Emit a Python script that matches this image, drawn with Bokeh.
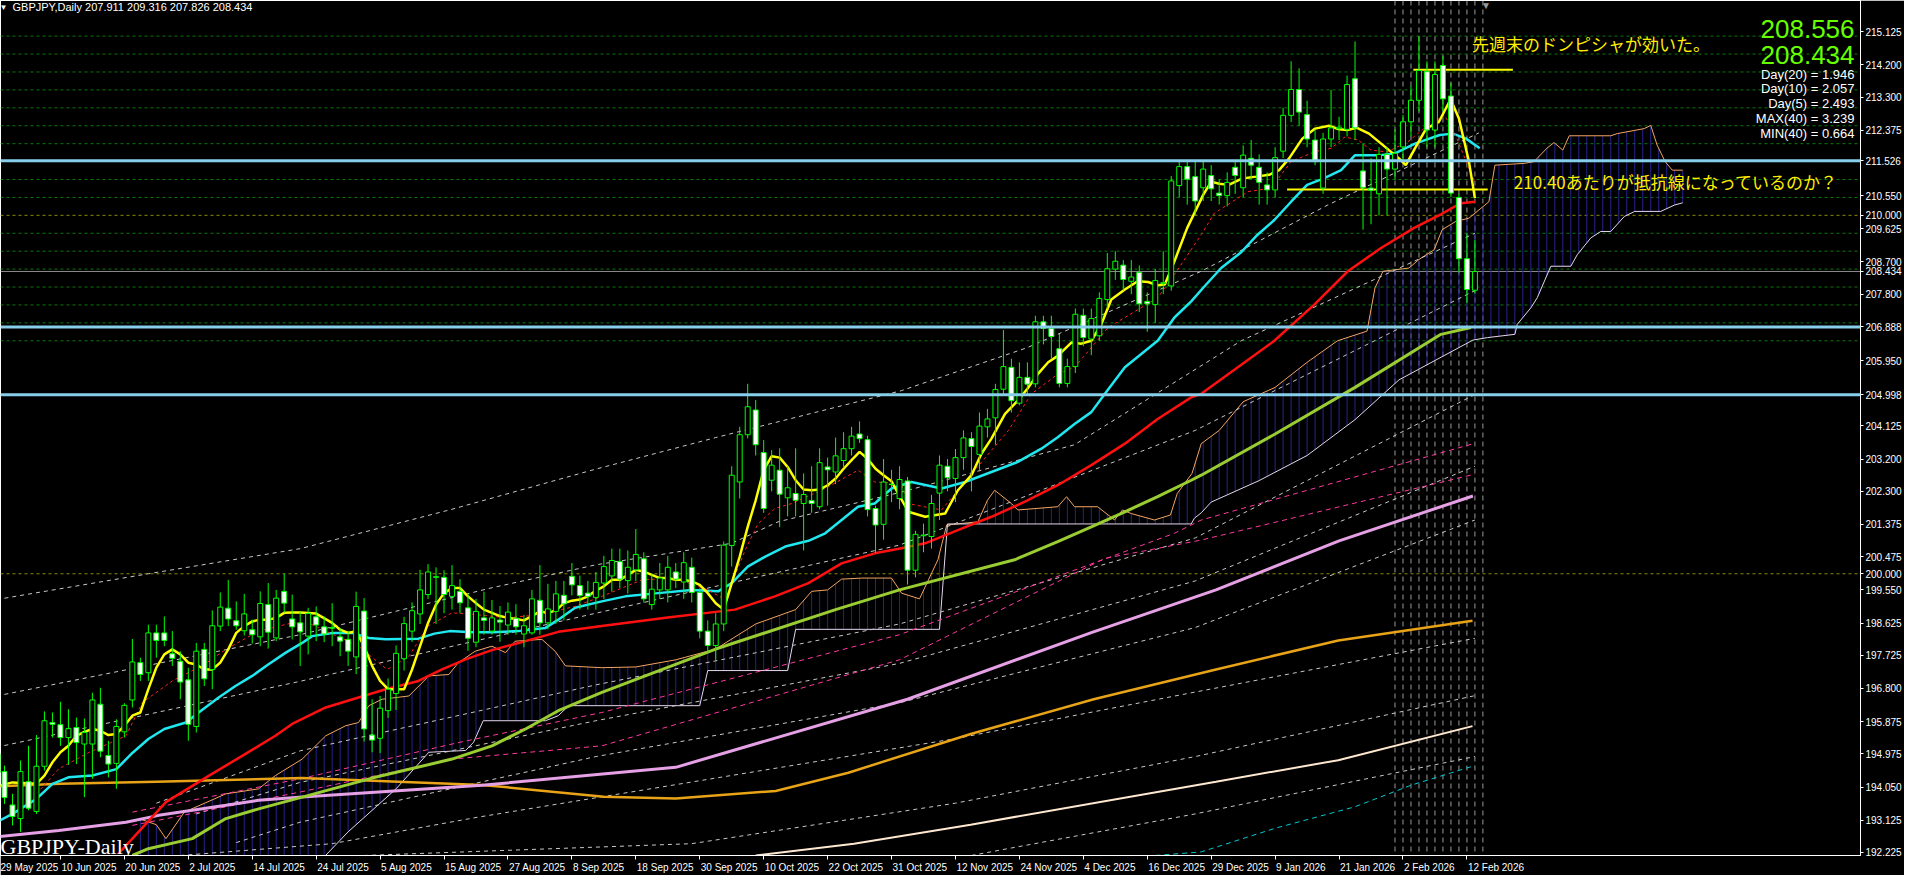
import numpy as np
from bokeh.plotting import figure
from bokeh.models import Range1d, FixedTicker, Span, Label, ColumnDataSource
from bokeh.embed import file_html
from bokeh.resources import INLINE

# ---------------- data ----------------
open_ = [194.97,194.48,193.55,193.17,194.20,193.37,194.63,195.85,195.79,195.43,195.71,195.25,195.25,196.36,194.93,194.71,195.59,196.48,197.52,197.24,
 198.35,198.35,197.77,197.56,197.04,195.74,197.89,197.33,198.54,199.04,198.69,198.41,198.44,198.24,199.14,198.21,199.51,198.74,198.63,198.26,
 198.80,198.52,198.50,198.24,198.17,197.68,198.96,195.50,195.41,196.18,196.66,197.63,198.40,198.88,199.42,199.90,199.90,199.37,199.51,199.05,
 198.09,198.77,198.40,198.71,198.57,198.76,198.32,198.35,199.26,198.63,198.95,199.40,199.93,199.67,199.46,199.34,199.74,199.94,200.34,199.81,
 200.11,200.42,199.14,199.55,199.55,200.05,199.77,200.18,199.48,198.40,198.00,198.60,200.79,202.56,203.88,204.57,203.38,202.61,202.89,202.12,
 202.24,201.96,202.04,201.87,202.98,202.84,203.16,203.49,203.90,203.74,201.82,201.38,202.50,202.10,202.59,200.10,201.06,201.04,202.25,203.00,
 202.66,203.24,203.77,203.33,204.10,204.35,205.15,205.76,204.76,205.48,205.30,207.03,206.84,206.28,205.31,205.78,207.21,206.55,206.64,207.65,
 208.50,208.61,208.16,208.41,207.60,207.51,208.10,208.03,210.83,211.36,211.08,210.77,211.11,210.62,210.55,211.34,210.77,211.59,211.34,210.85,
 210.71,211.79,212.79,213.51,212.81,212.10,210.76,212.13,212.42,212.40,213.81,211.24,210.76,210.60,211.70,211.29,211.91,212.61,213.21,214.01,
 212.38,214.18,213.33,210.50,208.79,207.911]
high = [196.32,194.65,193.86,194.79,195.20,195.50,196.16,196.13,196.43,196.22,195.99,195.96,196.68,196.82,195.34,195.94,196.39,198.18,197.66,198.58,
 198.58,198.81,198.40,197.84,197.38,198.07,198.07,198.98,199.48,199.83,199.23,199.44,198.72,199.51,199.74,199.55,200.00,199.42,198.95,199.05,
 199.09,198.81,199.18,198.49,198.40,199.50,199.32,196.50,196.59,197.08,198.00,198.80,199.20,200.11,200.27,200.18,200.10,200.24,199.85,199.45,
 199.30,199.50,199.27,199.10,199.20,199.15,198.85,199.55,200.24,199.72,199.80,199.80,200.30,199.95,199.80,200.05,200.50,200.70,200.70,200.65,
 201.25,200.60,200.00,200.30,200.50,200.30,200.60,200.45,199.60,198.70,198.90,200.90,203.00,204.10,205.30,204.85,203.73,203.45,203.50,203.00,
 203.50,202.80,203.00,203.50,203.24,203.80,203.95,204.10,204.25,203.85,201.90,203.20,202.90,203.00,202.70,201.20,201.40,202.20,203.30,203.20,
 203.48,204.00,203.95,204.50,204.60,205.30,206.80,206.00,205.90,205.90,207.20,207.20,207.20,206.70,206.00,207.40,207.40,207.40,207.85,208.95,
 209.00,208.75,208.75,208.60,207.85,208.50,209.00,211.10,211.50,211.50,211.50,211.50,211.40,211.00,211.20,211.55,211.95,212.10,211.70,211.20,
 211.90,213.00,214.30,214.10,213.20,212.40,212.30,213.50,212.75,213.90,214.85,212.00,211.60,211.90,211.90,212.40,212.80,213.60,215.00,214.30,
 214.30,214.45,213.70,210.60,209.50,209.316]
low = [194.28,193.58,192.98,192.80,193.40,193.30,194.51,195.43,195.20,194.67,194.69,193.77,194.28,194.88,194.32,194.00,195.43,196.27,197.01,197.01,
 197.66,197.98,197.43,196.50,195.34,195.57,196.87,196.78,198.40,198.54,198.44,198.28,198.05,197.98,197.91,198.12,198.91,198.17,197.43,197.75,
 198.12,198.09,197.98,197.70,197.43,197.20,195.32,195.02,195.00,195.98,196.20,197.30,198.10,198.60,199.30,198.60,198.90,199.00,198.90,197.85,
 197.95,198.30,198.30,198.10,198.30,198.30,197.95,198.30,198.30,198.45,198.60,198.70,199.40,199.00,199.00,199.00,199.30,199.50,199.60,199.45,
 199.80,199.20,199.00,199.30,199.20,199.60,199.30,199.20,198.20,197.80,197.60,198.40,200.20,202.10,203.78,203.30,201.70,202.30,201.30,201.60,
 201.60,200.65,201.70,201.80,201.90,202.50,202.95,203.30,203.65,201.60,200.58,200.95,202.00,201.80,199.70,199.90,200.60,200.70,201.50,202.30,
 202.00,202.90,202.30,202.90,203.80,203.60,205.00,204.50,204.70,205.00,205.20,206.40,206.00,205.20,205.20,205.60,206.35,206.10,206.50,207.40,
 208.20,207.90,207.80,207.30,206.75,207.00,207.80,207.90,210.50,210.30,210.00,210.40,210.40,210.30,210.25,210.60,210.50,211.00,210.30,210.30,
 210.50,211.60,212.60,212.50,211.90,211.40,210.60,211.90,212.10,212.20,212.10,209.60,209.75,210.00,210.00,211.00,211.50,212.20,212.90,211.90,
 211.90,212.90,210.50,208.40,207.55,207.826]
close = [194.46,193.76,193.23,194.48,193.46,194.63,195.90,195.80,195.43,195.68,195.29,195.57,196.48,195.05,194.69,195.74,196.33,197.54,197.19,198.35,
 198.14,198.14,197.64,196.98,195.80,197.84,197.07,198.55,199.07,198.74,198.55,198.88,198.30,199.17,198.37,199.32,199.18,198.52,198.38,198.89,
 198.57,198.32,198.48,198.12,197.84,199.09,195.67,195.36,196.25,196.78,197.78,198.61,198.97,199.55,200.05,199.92,199.42,199.67,199.19,198.20,
 198.95,198.70,198.77,198.65,198.93,198.52,198.55,199.30,198.63,199.02,199.44,199.16,199.69,199.39,199.37,199.76,200.20,200.37,199.85,200.18,
 200.54,199.30,199.57,199.88,200.18,199.85,200.31,199.48,198.40,198.00,198.60,200.80,202.75,203.88,204.66,203.60,201.82,203.03,202.22,202.40,
 202.05,202.21,201.96,203.10,202.90,203.29,203.49,203.84,203.77,201.79,201.36,202.56,202.49,202.63,200.10,201.10,201.08,201.96,203.03,202.68,
 203.24,203.79,203.55,204.12,204.32,205.14,205.78,204.83,205.48,205.29,207.03,206.85,206.62,205.31,205.78,207.24,206.59,207.12,207.68,208.51,
 208.72,208.21,208.28,207.53,207.53,208.18,208.12,210.96,211.36,211.01,210.40,211.29,210.74,210.55,210.92,211.11,211.68,211.40,210.92,210.71,
 211.61,212.79,213.51,212.88,212.13,211.50,212.13,212.44,212.46,213.65,212.44,210.78,210.70,211.70,211.29,211.73,212.61,213.21,214.04,212.38,
 213.93,213.25,210.62,208.79,207.93,208.434]

date_labels = ["29 May 2025","10 Jun 2025","20 Jun 2025","2 Jul 2025","14 Jul 2025","24 Jul 2025","5 Aug 2025","15 Aug 2025",
 "27 Aug 2025","8 Sep 2025","18 Sep 2025","30 Sep 2025","10 Oct 2025","22 Oct 2025","31 Oct 2025","12 Nov 2025","24 Nov 2025",
 "4 Dec 2025","16 Dec 2025","29 Dec 2025","9 Jan 2026","21 Jan 2026","2 Feb 2026","12 Feb 2026"]
date_bars = [0,8,16,24,32,40,48,56,64,72,80,88,96,104,112,120,128,136,144,152,160,168,176,184]

price_ticks = [215.125,214.2,213.3,212.375,210.55,209.625,208.7,207.8,205.95,204.125,203.2,202.3,201.375,200.475,
 199.55,198.625,197.725,196.8,195.875,194.975,194.05,193.125,192.225]

# moving-average style lines (bar index, price)
yellow_x = [0,2,5,6,7,8,9,10,11,12,13,14,15,16,17,18,19,20,21,22,23,24,25,26,27,28,29,30,31,32,33,34,35,36,37,38,40,42,43,44,45,46,47,48,49,50,
 51,52,53,54,55,56,57,58,59,60,61,62,63,64,65,66,67,68,69,70,71,72,73,74,75,76,77,78,79,80,81,82,83,84,85,86,87,88,89,90,91,92,93,94,95,96,97,98,99,100,
 101,102,103,104,105,106,107,108,109,110,111,112,114.1,116.2,118.7,120.3,122,123.25,124.5,126.2,127.8,129,130.3,131.6,132.8,134.5,135.75,137,138.25,139.5,
 141.2,142.8,144.1,145.3,146.2,147.4,149,150,151,152,153,154.2,155.9,157.6,159.25,160.5,161.75,163.4,165,166.75,168,169,170.25,171.75,173,174.25,175.5,
 176.35,177.6,178.9,180.5,181.96,183,184.25,185]
yellow_y = [194.07,194.18,194.14,194.37,194.74,195.02,195.2,195.48,195.59,195.67,195.62,195.5,195.53,195.76,196.04,196.13,196.78,197.38,197.75,197.89,
 197.75,197.52,197.47,197.33,197.33,197.52,197.89,198.35,198.54,198.67,198.72,198.72,198.77,198.91,198.92,198.92,198.89,198.63,198.44,198.35,198.4,197.98,
 197.43,197.01,196.78,196.78,196.78,197.33,197.98,198.63,199.14,199.46,199.6,199.6,199.37,199.18,199.0,198.91,198.82,198.77,198.74,198.7,198.82,198.95,
 198.91,198.98,199.18,199.25,199.28,199.37,199.53,199.65,199.83,199.83,199.97,200.11,200.06,199.97,199.88,199.88,199.83,199.83,199.79,199.69,199.46,199.18,
 199.0,199.74,200.48,201.31,202.05,202.89,203.28,203.24,202.98,202.61,202.35,202.33,202.35,202.47,202.66,202.93,203.17,203.4,203.21,202.93,202.75,202.58,
 201.73,201.59,201.68,202.33,202.75,203.35,203.77,204.46,204.83,205.16,205.57,205.9,206.08,206.45,206.42,206.5,206.96,207.65,207.93,208.16,208.14,208.05,
 208.07,208.72,209.65,210.11,210.57,210.94,210.88,210.85,211.03,211.08,211.13,211.26,211.59,212.14,212.42,212.5,212.4,212.38,212.44,212.28,212.05,211.82,
 211.59,211.4,211.91,212.42,212.61,213.24,212.7,211.5,210.48]

cyan_x = [0,2,5,7,9,12,15,17,19,21,23.7,25.3,27.8,29.9,32,34,36.2,38.25,39.5,42,44.5,46.6,48.7,52.8,54.8,56.7,59.5,62,65.3,68.7,70.3,72.4,75.75,78.7,
 82.8,87,90.3,92,94,96.2,98.7,101.6,103.7,105.75,107.8,109.9,112,114.5,118.25,121.2,124.5,127.8,130.75,132.8,134.9,137,138.7,141.2,143.25,145.3,147.4,
 149.5,151,153.25,155.75,157.8,159.9,162,164,166.1,168.25,170,171.6,173.25,175,177.5,180.6,182.25,183.9,185.6]
cyan_y = [193.07,193.3,193.72,194.14,194.32,194.37,194.55,195.0,195.39,195.67,195.85,196.13,196.55,196.87,197.15,197.47,197.8,198.07,198.26,198.35,
 198.35,198.21,198.17,198.19,198.33,198.4,198.37,198.37,198.4,198.49,198.72,199.05,199.23,199.37,199.46,199.55,199.51,199.74,200.2,200.48,200.76,200.92,
 201.13,201.5,201.87,201.96,202.38,202.56,202.38,202.56,202.84,203.12,203.49,203.81,204.18,204.51,205.02,205.76,206.13,206.5,207.15,207.6,207.98,208.53,
 208.97,209.46,209.87,210.38,210.85,211.03,211.26,211.68,211.68,211.68,211.73,212.0,212.24,212.28,212.14,211.87]

red_x = [15.3,21.2,26.6,30.75,34.9,37,41.2,45.3,48.7,52.8,55.75,58.7,62,66.2,70.3,75.75,84,92.4,97.4,101.6,105.75,109.9,113.25,116.2,120.3,124.5,
 128.7,132.8,137,141.2,145.3,149.5,150.75,159.9,164.9,169.1,173.25,177.4,180.75,183.25,185]
red_y = [192.2,193.63,194.37,194.92,195.48,195.81,196.27,196.55,196.78,197.01,197.33,197.61,197.87,198.12,198.38,198.54,198.78,199.0,199.37,199.74,
 200.29,200.57,200.71,200.85,201.22,201.59,202.01,202.47,203.03,203.63,204.32,204.92,205.02,206.5,207.51,208.44,209.09,209.65,210.03,210.34,210.38]

redd_x = [5,7.8,11.6,16.2,18.25,22,26,28.7,32.8,37,39,45.3,47.8,48.9,51.6,54,57,60,64,68,72.4,75.75,80.75,84.9,89,91.2,93.7,95.3,97.4,99.5,103.7,
 107.8,109.9,113.25,114,118.25,122.4,126.6,129.5,132.8,134.9,137,139.1,141.2,145.3,147.4,150.75,152.4,156.6,159.5,162,164.9,167,168.75,170.4,172,174,
 176.6,179.1,181.2,182.4,184.1,185]
redd_y = [193.86,194.56,195.02,195.48,196.41,197.01,197.47,197.89,198.4,198.63,198.63,197.98,197.52,197.33,197.7,198.54,198.91,198.86,198.77,198.86,
 199.09,199.37,199.83,199.88,199.55,199.28,200.67,201.4,201.82,201.96,202.38,202.89,202.56,202.52,201.96,201.78,202.89,203.99,205.02,205.57,205.76,
 206.31,206.87,207.15,207.7,208.35,209.46,210.06,210.66,210.76,211.5,211.77,211.87,212.19,212.1,211.82,211.77,212.05,212.51,212.79,212.33,211.4,210.94]

ygreen_x = [17,19,24.5,28.7,32.8,38.25,47,57,62,66.2,70.3,75.75,90,105,113,127.4,132.8,137,141.2,145.3,149.5,150.75,160,170,180.75,184.5]
ygreen_y = [192.14,192.33,192.61,193.17,193.44,193.77,194.3,194.83,195.2,195.67,196.18,196.69,197.9,199.0,199.55,200.39,200.9,201.31,201.73,202.15,202.61,
 202.75,203.9,205.2,206.68,206.87]

violet_x = [0,7.8,16.2,20.3,24.5,28.7,32.8,38.25,60.75,85,114,137,152.6,168,184.75]
violet_y = [192.66,192.84,193.07,193.26,193.4,193.54,193.68,193.77,194.1,194.6,196.5,198.36,199.55,200.92,202.17]

orange_x = [0,8,20,38.25,60.75,76,85,97.5,106.6,121.9,137.3,152.6,167.9,184.7]
orange_y = [194.07,194.14,194.2,194.3,194.11,193.78,193.73,193.94,194.45,195.53,196.5,197.33,198.14,198.69]

white_x = [95,107.3,121.9,152.6,167.9,184.7]
white_y = [192.14,192.47,193.0,194.2,194.8,195.75]

teal_x = [145,150.75,160,170,177,185]
teal_y = [192.14,192.24,192.9,193.5,194.1,194.65]

pink1_x = [17,38,58,75.75,113,147.4,150.75,185]
pink1_y = [193.35,194.28,195.3,196.13,198.3,201.13,201.5,203.64]
pink2_x = [17,38,57,75.75,113,138.7,150.75,185]
pink2_y = [192.98,193.91,194.83,195.2,197.6,200.43,200.94,202.78]

# dashed band lines (bar index, price)
bands = [
    ([0,19,38,57,74.5,90,113.25,129,150.75,166.6,185.5], [199.28,200.0,200.7,201.8,202.89,203.8,205.11,206.31,208.44,210.29,212.3]),
    ([0,38,62,75,92,97.8,113.25,134.9,155.75,185], [196.59,198.3,199.61,200.25,200.85,201.45,202.28,203.6,206.5,209.5]),
    ([0,38,75,113,150,185], [195.16,197.0,198.9,200.8,204.0,207.9]),
    ([20,38,75,113,150,185], [193.6,195.06,196.9,198.6,201.0,205.0]),
    ([25,38,75,113,150,185], [193.3,194.18,195.9,197.5,199.8,203.0]),
    ([30,38,75,113,150,185], [192.5,193.07,194.9,196.4,198.5,201.5]),
    ([23,42,60,90,120,150,185], [192.14,192.47,193.2,194.3,195.4,196.7,198.2]),
    ([46,87,120,150,185], [192.14,192.47,193.6,194.9,196.6]),
    ([122,127,150,185], [192.14,192.35,193.3,194.9]),
]

# ichimoku cloud spans (bar index, price)
spanA_x = [17.8,20,21.2,23.5,28.7,32.8,34.9,38.25,41.2,43.7,45.3,46.6,48.25,51.6,54.1,56.6,57.8,59.9,62,63.7,64.9,68.25,69.9,71.2,75.75,80,85,90,95,
 100,102,104,105.75,108.25,112,113.25,115.5,117.8,118.9,122.8,124,124.9,127,127.8,132.8,133.9,134.9,137.8,139.9,140.9,142,144.9,146.9,147.75,149.6,
 150.75,153,156,160,164,167.8,171.5,172.5,173.5,176.75,178,179.9,180.9,182.6,184.25,185.5,186.75,187.5,191.2,192.4,194,194.9,196,196.8,202,202.8,
 206.2,207,207.8,208.8,209.7,211]
spanA_y = [193.17,193.0,192.61,193.35,193.86,194.0,194.37,194.83,195.48,195.76,195.85,196.32,196.5,196.59,197.15,197.19,197.52,197.84,197.98,197.8,
 198.12,198.17,197.84,197.43,197.38,197.4,197.6,197.9,198.6,199.0,199.51,199.55,199.85,199.88,199.88,199.46,199.3,200.39,201.36,201.45,202.05,202.33,
 201.96,201.78,201.87,202.15,201.87,201.87,201.5,201.78,201.68,201.5,201.64,202.24,202.8,203.63,204.0,204.8,205.2,205.9,206.5,206.77,207.98,208.44,
 208.53,208.77,209.04,209.6,209.83,209.92,210.15,210.38,211.4,211.45,211.5,211.87,212.03,211.82,212.22,212.22,212.28,212.42,212.51,211.96,211.5,
 211.26,211.26]
spanB_x = [17.8,41,44,50,54.1,58.7,59.7,60.9,68.7,70.3,71.6,76,88,89,99,100,118,119,149.5,149.9,150.75,152,158,164,170,175.5,
 184.75,186.6,190,190.3,192,192.8,194.5,197,197.8,199.5,200.75,202,203.7,205,208.25,210,211]
spanB_y = [190.8,192.1,192.8,194.0,195.02,195.07,195.3,195.9,195.9,196.04,196.32,196.32,196.32,197.3,197.3,198.45,198.45,201.39,201.39,
 201.55,201.7,202.0,202.6,203.3,204.3,205.41,206.52,206.59,206.68,206.96,207.42,207.7,208.58,208.58,208.9,209.37,209.55,209.55,209.97,210.11,210.11,
 210.29,210.35]

# horizontal levels / objects
blue_levels = [211.526, 206.888, 204.998]
olive_levels = [210.0, 200.0]
bid_level = 208.434
green_grid = [215.0,214.5,214.0,213.5,213.0,212.5,212.0,211.5,211.0,210.5,209.5,209.0,208.5,208.0,207.5,207.0,206.5]
vsep_bars = [175,176,177,178,179,180,181,182,183,184,185,186]
yseg_x0 = [177.3, 161.5]
yseg_x1 = [189.75, 186.6]
yseg_y = [214.06, 210.72]

info_lines = ["Day(20) = 1.946", "Day(10) = 2.057", "Day(5) = 2.493", "MAX(40) = 3.239", "MIN(40) = 0.664"]
big_prices = ["208.556", "208.434"]
header = "GBPJPY,Daily  207.911 209.316 207.826 208.434"
note1 = "先週末のドンピシャが効いた。"
note2 = "210.40あたりが抵抗線になっているのか？"

# ---------------- figure ----------------
def xd(X):  # page pixel -> bar index
    return (X - 4) / 8.0

def yd(Y):  # page pixel -> price
    return 216.05 - (Y - 6) / 36.01

p = figure(width=1904, height=875, x_range=Range1d(0.5, 233.25), y_range=Range1d(192.14, 215.994),
           output_backend="svg", toolbar_location=None, y_axis_location="right",
           background_fill_color="black", border_fill_color="black",
           outline_line_color="white", outline_line_width=1,
           min_border_left=0, min_border_top=0, min_border_right=42, min_border_bottom=16)
p.grid.visible = False

# axes: regular price ticks plus the level tags (horizontal lines / bid)
tag_levels = blue_levels + olive_levels + [bid_level]
ya = p.yaxis[0]
ya.ticker = FixedTicker(ticks=price_ticks + tag_levels)
ya.major_label_overrides = {v: f"{v:.3f}" for v in price_ticks + tag_levels}
ya.axis_line_color = "white"
ya.major_tick_line_color = "white"
ya.major_tick_out = 3
ya.major_tick_in = 0
ya.minor_tick_line_color = None
ya.major_label_standoff = 2
ya.major_label_text_color = "white"
ya.major_label_text_font = "Liberation Sans"
ya.major_label_text_font_size = "10px"

def label_width(s):
    w = {"M": 8.3, "J": 5.0, "A": 6.7, "S": 6.7, "O": 7.8, "N": 7.2, "D": 7.2, "F": 6.1, " ": 2.8,
         "l": 2.2, "t": 2.8, "c": 5.0, "v": 5.0, "y": 5.0}
    return sum(w.get(ch, 5.56) for ch in s)

centers = [b + (label_width(s) / 2 + 1) / 8.0 for b, s in zip(date_bars, date_labels)]
xa = p.xaxis[0]
xa.ticker = FixedTicker(ticks=centers, minor_ticks=date_bars)
xa.major_label_overrides = {c: s for c, s in zip(centers, date_labels)}
xa.axis_line_color = "white"
xa.major_tick_line_color = None
xa.major_tick_out = 0
xa.major_tick_in = 0
xa.minor_tick_line_color = "white"
xa.minor_tick_out = 4
xa.minor_tick_in = 0
xa.major_label_standoff = 2
xa.major_label_text_color = "white"
xa.major_label_text_font = "Liberation Sans"
xa.major_label_text_font_size = "10px"

# background levels
for lv in green_grid:
    p.add_layout(Span(location=lv, dimension="width", line_color="#0a7a0a", line_width=1, line_dash="3 3", level="underlay"))
for lv in olive_levels:
    p.add_layout(Span(location=lv, dimension="width", line_color="#8a8a00", line_width=1, line_dash="3 3", level="underlay"))
for b in vsep_bars:
    p.add_layout(Span(location=b, dimension="height", line_color="#9a9a9a", line_width=1, line_dash="5 4", level="underlay"))

# ichimoku cloud: one vertical stroke per bar between the two spans
cloud_bars = np.arange(18, 212)
cA = np.interp(cloud_bars, spanA_x, spanA_y)
cB = np.interp(cloud_bars, spanB_x, spanB_y)
p.segment(cloud_bars, cA, cloud_bars, cB, line_color="#24248f", line_width=1)
p.line(spanA_x, spanA_y, line_color="#f4a460", line_width=1)
p.line(spanB_x, spanB_y, line_color="#e6d6f0", line_width=1)

# dashed band lines
for bx, by in bands:
    p.line(bx, by, line_color="#c8c8c8", line_width=1, line_dash="4 4")
p.line(pink1_x, pink1_y, line_color="#ff3aa0", line_width=1, line_dash="5 4")
p.line(pink2_x, pink2_y, line_color="#ff3aa0", line_width=1, line_dash="5 4")

# long averages
p.line(white_x, white_y, line_color="#ffe8d0", line_width=2)
p.line(orange_x, orange_y, line_color="#e8a317", line_width=2.5)
p.line(violet_x, violet_y, line_color="#e6a0e6", line_width=3)
p.line(ygreen_x, ygreen_y, line_color="#9acd32", line_width=3)
p.line(teal_x, teal_y, line_color="#00c8d0", line_width=1, line_dash="5 4")
p.line(red_x, red_y, line_color="#ff1010", line_width=2.5)
p.line(cyan_x, cyan_y, line_color="#20e8f0", line_width=2.5)
p.line(redd_x, redd_y, line_color="#ff2020", line_width=1, line_dash="3 3")
p.line(yellow_x, yellow_y, line_color="#ffff00", line_width=2.5)

# horizontal objects
for lv in blue_levels:
    p.add_layout(Span(location=lv, dimension="width", line_color="#87ceeb", line_width=3))
p.add_layout(Span(location=bid_level, dimension="width", line_color="#8c8c8c", line_width=1, level="underlay"))
p.segment(yseg_x0, yseg_y, yseg_x1, yseg_y, line_color="#ffff00", line_width=2)

# candles
bars = list(range(len(close)))
src = ColumnDataSource(dict(
    x=bars, h=high, l=low,
    top=[max(o, c) for o, c in zip(open_, close)],
    bot=[min(o, c) for o, c in zip(open_, close)],
    fill=["black" if c >= o else "white" for o, c in zip(open_, close)]))
p.segment("x", "l", "x", "h", source=src, line_color="#00ff00", line_width=1)
p.vbar(x="x", width=0.62, top="top", bottom="bot", source=src, fill_color="fill", line_color="#00ff00", line_width=1)

# texts
def lab(x, y, text, **kw):
    p.add_layout(Label(x=x, y=y, text=text, **kw))

lab(xd(11), yd(15), "▼", text_color="white", text_font_size="8px", text_baseline="middle", text_align="center")
lab(xd(20), yd(15), header, text_color="white", text_font="Liberation Sans", text_font_size="11px", text_baseline="middle")
lab(xd(1495), yd(13), "▼", text_color="#9a9a9a", text_font_size="10px", text_baseline="middle", text_align="center")
lab(xd(8), yd(858), "GBPJPY-Daily", text_color="white", text_font="Liberation Serif", text_font_size="22px", text_baseline="alphabetic")
for k, s in enumerate(big_prices):
    lab(xd(1864), yd(37 + 26 * k), s, text_color="#66ff00", text_font="Liberation Sans", text_font_size="26px",
        text_align="right", text_baseline="alphabetic")
for k, s in enumerate(info_lines):
    lab(xd(1864), yd(82 + 14.8 * k), s, text_color="white", text_font="Liberation Sans", text_font_size="13px",
        text_align="right", text_baseline="middle")
lab(xd(1481), yd(51), note1, text_color="#ffee00", text_font="Noto Sans CJK JP", text_font_size="17px", text_baseline="middle")
lab(xd(1523), yd(190), note2, text_color="#ffee00", text_font="Noto Sans CJK JP", text_font_size="17px", text_baseline="middle")

open("out.html", "w").write(file_html(p, INLINE))
